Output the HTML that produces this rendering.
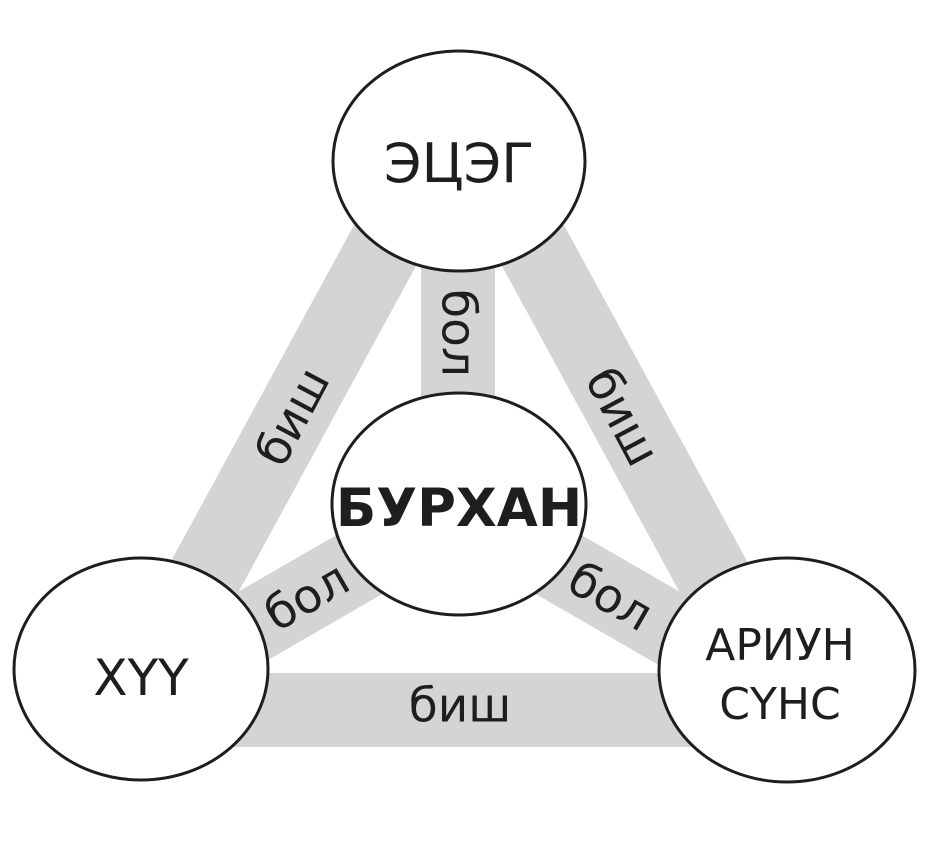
<!DOCTYPE html>
<html><head><meta charset="utf-8"><style>
html,body{margin:0;padding:0;background:#fff;}
svg{display:block;}
text{font-family:"DejaVu Sans","Liberation Sans",sans-serif;fill:#1e1e1e;}
</style></head><body>
<svg width="931" height="841" viewBox="0 0 931 841">
<g stroke="#d4d4d4" stroke-width="74" fill="none">
<line x1="400" y1="218" x2="180" y2="622"/>
<line x1="518" y1="218" x2="738" y2="622"/>
<line x1="458" y1="230" x2="458" y2="420"/>
<line x1="400" y1="541" x2="220" y2="645"/>
<line x1="518" y1="541" x2="698" y2="645"/>
<line x1="200" y1="710" x2="720" y2="710"/>
</g>
<g font-size="47" text-anchor="middle" dominant-baseline="central">
<text transform="translate(458,333) rotate(90)">бол</text>
<text transform="translate(293,417) rotate(-62)">биш</text>
<text transform="translate(622,417) rotate(62)">биш</text>
<text transform="translate(307,597) rotate(-30)">бол</text>
<text transform="translate(610,597) rotate(30)">бол</text>
<text x="460" y="706">биш</text>
</g>
<g fill="#fff" stroke="#1e1e1e" stroke-width="3">
<ellipse cx="459" cy="161" rx="126" ry="110"/>
<ellipse cx="459" cy="504" rx="127" ry="111"/>
<ellipse cx="141" cy="669" rx="127" ry="111"/>
<ellipse cx="787" cy="670" rx="128" ry="112"/>
</g>
<g text-anchor="middle">
<text x="459" y="182" font-size="54">ЭЦЭГ</text>
<text x="459" y="526" font-size="53" font-weight="bold">БУРХАН</text>
<text x="141" y="695" font-size="50">ХҮҮ</text>
<text x="780" y="660" font-size="44">АРИУН</text>
<text x="780" y="719" font-size="44">СҮНС</text>
</g>
</svg>
</body></html>
